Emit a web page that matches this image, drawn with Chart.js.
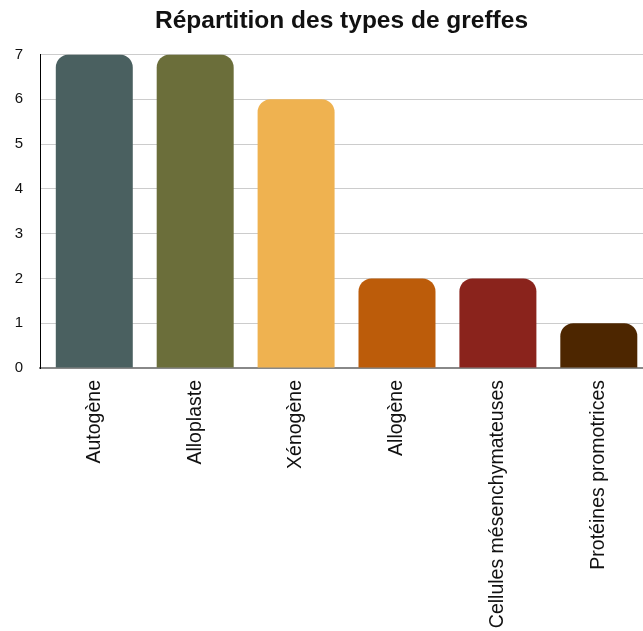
<!DOCTYPE html>
<html>
<head>
<meta charset="utf-8">
<script src="https://cdn.jsdelivr.net/npm/chart.js@4"></script>
<style>
  body { margin: 0; background: #fff; }
  #wrap { width: 643px; height: 631px; position: relative; }
</style>
</head>
<body>
<div id="wrap"><canvas id="myChart"></canvas></div>
<script>
const categories = [
  "Autogène",
  "Alloplaste",
  "Xénogène",
  "Allogène",
  "Cellules mésenchymateuses",
  "Protéines promotrices",
];
const counts = [7, 7, 6, 2, 2, 1];
const barColors = ["#4a6060", "#6b6e3a", "#efb250", "#bc5c0a", "#8a231c", "#4d2600"];
const yTicks = [0, 1, 2, 3, 4, 5, 6, 7];

const FONT = "'Liberation Sans', Arial, sans-serif";

var ctx = document.getElementById("myChart").getContext("2d");
var myChart = new Chart(ctx, {
  type: "bar",
  data: {
    datasets: [
      {
        data: categories.map((c, i) => ({ x: i, y: counts[i] })),
        backgroundColor: barColors,
        borderRadius: { topLeft: 13, topRight: 13 },
        borderSkipped: "start",
        barPercentage: 0.763,
        categoryPercentage: 1,
      },
    ],
  },
  options: {
    responsive: true,
    maintainAspectRatio: false,
    animation: false,
    layout: { padding: { left: 15, right: 0, top: 0, bottom: 0 } },
    plugins: {
      legend: { display: false },
      tooltip: { enabled: false },
      title: {
        display: true,
        text: "Répartition des types de greffes",
        color: "#111",
        font: { family: FONT, size: 24.5, weight: "bold" },
        padding: { top: 7, bottom: 18 },
        fullSize: false,
      },
    },
    scales: {
      x: {
        type: "linear",
        offset: false,
        min: -0.538,
        max: 5.438,
        grid: { display: false, drawTicks: false },
        border: { display: true, color: "#888", width: 2 },
        afterBuildTicks: (scale) => {
          scale.ticks = categories.map((c, i) => ({ value: i }));
        },
        afterFit: (scale) => {
          scale.height = 263;
        },
        ticks: {
          autoSkip: false,
          minRotation: 90,
          maxRotation: 90,
          padding: 12,
          color: "#111",
          font: { family: FONT, size: 19.5 },
          callback: (value) => categories[value],
        },
      },
      y: {
        min: 0,
        max: 7,
        afterBuildTicks: (scale) => {
          scale.ticks = yTicks.map((v) => ({ value: v }));
        },
        afterFit: (scale) => {
          scale.width = 25;
        },
        grid: { color: "#cccccc", drawTicks: false },
        border: { display: true, color: "#000", width: 1 },
        ticks: {
          padding: 17,
          color: "#111",
          font: { family: FONT, size: 15 },
        },
      },
    },
  },
});
</script>
</body>
</html>
